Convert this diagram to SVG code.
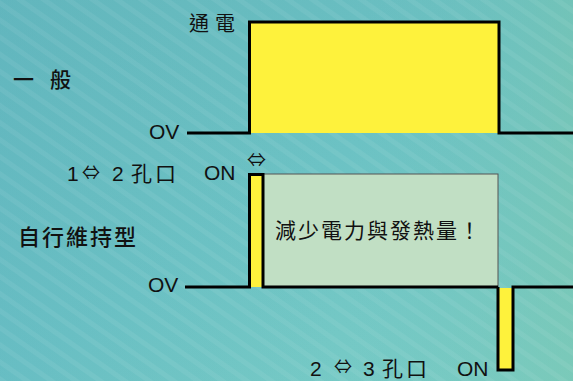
<svg xmlns="http://www.w3.org/2000/svg" width="573" height="381" viewBox="0 0 573 381">
<defs>
<linearGradient id="bg" x1="0" y1="0" x2="1" y2="1">
<stop offset="0" stop-color="#63b6bb"/>
<stop offset="0.5" stop-color="#6cc2c4"/>
<stop offset="1" stop-color="#7dcfc6"/>
</linearGradient>
<linearGradient id="bg2" x1="0" y1="0" x2="1" y2="0">
<stop offset="0" stop-color="#5fb5c2" stop-opacity="0.35"/>
<stop offset="0.6" stop-color="#6cbfc0" stop-opacity="0"/>
<stop offset="1" stop-color="#78c4ac" stop-opacity="0.5"/>
</linearGradient>
<pattern id="streak" width="14" height="14" patternUnits="userSpaceOnUse" patternTransform="rotate(35)">
<rect width="14" height="5" fill="#ffffff" opacity="0.06"/>
</pattern>
<style>
.ln{fill:none;stroke:#000;stroke-width:3;stroke-linejoin:miter}
.yl{fill:#fef23c}
.t{font-family:"Liberation Sans","Noto Sans CJK TC",sans-serif;fill:#111;font-size:21px}
.c{font-family:"Noto Sans CJK TC","Noto Sans CJK SC",sans-serif;fill:#111}
.ar{font-family:"Noto Sans CJK TC","DejaVu Sans",sans-serif;fill:#111}
</style>
</defs>
<rect width="573" height="381" fill="url(#bg)"/>
<rect width="573" height="381" fill="url(#bg2)"/>
<rect width="573" height="381" fill="url(#streak)"/>

<g id="labels">
<text class="c" x="189" y="31" font-size="20" letter-spacing="6">通電</text>
<text class="c" x="13" y="87" font-size="21" font-weight="500" letter-spacing="16">一般</text>
<text class="t" x="149" y="139">OV</text>
<text class="t" x="67" y="181">1</text>
<text class="ar" x="82" y="180" font-size="20" textLength="18" lengthAdjust="spacingAndGlyphs">⇔</text>
<text class="t" x="112" y="181">2</text>
<text class="c" x="131" y="181" font-size="21" letter-spacing="3">孔口</text>
<text class="t" x="204" y="180" font-size="22">ON</text>
<text class="ar" x="247" y="167" font-size="19" textLength="19" lengthAdjust="spacingAndGlyphs">⇔</text>
<text class="c" x="18" y="245" font-size="22" font-weight="500" letter-spacing="2">自行維持型</text>
<text class="t" x="148" y="292">OV</text>
<text class="t" x="310" y="376">2</text>
<text class="ar" x="334" y="374" font-size="20" textLength="18" lengthAdjust="spacingAndGlyphs">⇔</text>
<text class="t" x="363" y="376">3</text>
<text class="c" x="382" y="376" font-size="21" letter-spacing="3">孔口</text>
<text class="t" x="457" y="376" font-size="22">ON</text>
</g>

<g id="general-pulse">
<rect class="yl" x="250" y="22" width="249" height="111"/>
<polyline class="ln" points="187,133 249.5,133 249.5,22 499,22 499,133 573,133"/>
</g>

<g id="latching-pulse">
<rect x="263" y="174" width="235" height="113" fill="#c1dfc4" stroke="#555" stroke-width="1"/>
<rect class="yl" x="250" y="174" width="13" height="113"/>
<polyline class="ln" points="185,287 249.5,287 249.5,174.5 263,174.5 263,287 498,287"/>
<rect class="yl" x="498" y="288" width="14" height="81"/>
<polyline class="ln" points="498,287 498,370 513,370 513,287 573,287"/>
<text class="c" x="275" y="238" font-size="21" letter-spacing="2">減少電力與發熱量！</text>
</g>
</svg>
